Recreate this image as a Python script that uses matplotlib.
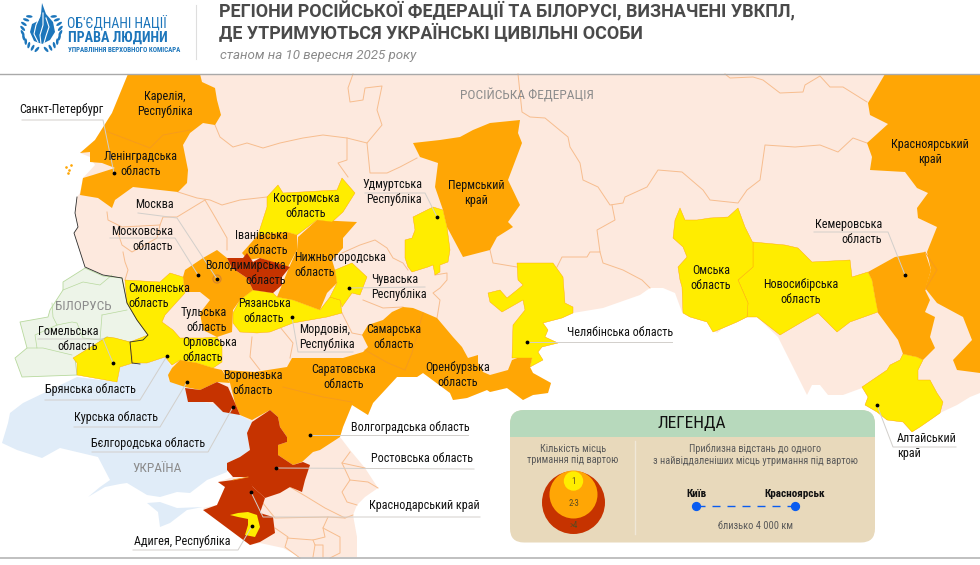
import numpy as np
import matplotlib
matplotlib.use("Agg")
import matplotlib.pyplot as plt
from matplotlib.patches import Polygon, FancyBboxPatch, Rectangle, Circle, Ellipse
from matplotlib import font_manager

names = {f.name for f in font_manager.fontManager.ttflist}
narrow = "Roboto"
for candidate in ["Liberation Sans Narrow", "Roboto Condensed"]:
    if candidate in names:
        narrow = candidate
plt.rcParams["font.family"] = [narrow, "DejaVu Sans"]

PEACH = "#fde9de"
ORANGE = "#ffa605"
YELLOW = "#ffed00"
RED = "#c63300"
EDGE = "#f7bd8e"
INNER = "#f59a1f"
GREY = "#d2cfcb"
GREEN_EDGE = "#b8d99e"

russia = [(128,74),(980,74),(980,393),(970,397),(957,405),(942,412),(933,418),(912,432),(903,422),(887,420),
          (877,412),(865,405),(868,397),(862,388),(843,395),(828,395),(820,385),(812,385),(807,395),(778,337),
          (757,317),(747,317),(737,322),(723,328),(717,333),(713,330),(707,322),(690,317),(682,312),(675,293),
          (663,288),(650,288),(640,295),(603,308),(573,313),(562,318),(543,323),(548,330),(545,337),(558,343),
          (542,347),(538,352),(543,360),(530,367),(533,373),(551,383),(548,393),(533,395),(523,400),(507,388),
          (490,392),(487,390),(467,398),(453,400),(450,393),(423,373),(417,377),(397,377),(373,403),(368,415),
          (352,405),(343,427),(340,437),(350,450),(365,468),(378,488),(365,497),(357,505),(353,515),(357,537),
          (357,557),(300,557),(283,548),(260,543),(250,545),(203,508),(217,505),(225,487),(218,482),(233,477),
          (227,470),(227,463),(240,457),(250,450),(247,433),(252,422),(240,415),(217,405),(187,398),(185,387),
          (168,380),(172,368),(165,357),(147,363),(132,363),(130,342),(143,340),(148,335),(137,320),(127,303),
          (122,278),(103,275),(85,267),(74,233),(78,227),(75,213),(77,197),(80,193),(83,178),(95,165),(90,157),
          (80,153),(95,140),(112,113)]
belarus = [(63,282),(82,270),(85,268),(103,276),(122,278),(127,303),(137,320),(148,335),(143,340),(130,342),
           (107,337),(75,358),(77,375),(22,377),(15,358),(27,348),(20,322),(48,317),(50,310),(63,290)]
ukraine = [(77,377),(117,382),(120,367),(132,363),(147,363),(165,357),(172,368),(168,380),(185,387),(187,398),
           (217,405),(240,415),(252,422),(247,433),(250,450),(240,457),(227,463),(227,472),(207,480),(190,493),
           (177,492),(160,497),(147,495),(127,483),(120,484),(105,487),(88,497),(100,487),(110,480),(98,457),
           (60,448),(42,458),(17,450),(2,443),(8,423),(10,413),(23,403)]
crimea = [(147,503),(160,502),(177,508),(203,507),(187,510),(170,523),(160,527),(158,512)]

karelia_leningrad = [(128,74),(200,74),(202,82),(215,88),(217,100),(221,115),(215,125),(203,123),(190,133),(183,145),
                     (188,170),(187,183),(178,192),(133,187),(115,200),(112,208),(98,198),(80,195),(83,178),
                     (93,175),(115,168),(102,163),(90,162),(90,152),(80,153),(95,140),(112,113)]
krasnoyarsk = [(885,74),(868,103),(870,115),(888,124),(867,143),(872,157),(870,170),(905,172),(917,188),(928,193),
               (917,208),(918,218),(937,227),(927,252),(931,270),(925,288),(937,303),(963,317),(972,340),(953,360),
               (957,370),(980,373),(980,74)]
kemerovo = [(868,272),(895,257),(925,252),(931,270),(925,290),(930,300),(925,312),(935,317),(930,337),(935,348),
            (923,360),(917,357),(903,354),(898,340),(878,313),(875,297),(872,280)]
perm = [(413,143),(440,140),(460,137),(473,130),(490,123),(520,120),(518,133),(522,143),(508,180),(520,205),
        (508,222),(513,227),(497,237),(490,250),(463,257),(447,227),(443,210),(435,187),(438,163),(420,157)]
nizhny = [(317,220),(357,222),(343,238),(343,248),(332,260),(335,270),(337,283),(327,293),(320,310),(293,300),
          (277,297),(288,270),(297,250),(298,237)]
ivanovo = [(242,253),(258,235),(287,232),(297,235),(297,250),(288,267),(260,258),(248,260)]
moscow = [(183,277),(185,270),(203,258),(217,250),(227,258),(232,268),(247,278),(253,290),(240,300),(233,310),(232,332),
          (217,337),(203,330),(200,313),(210,300),(200,292),(185,292)]
big_south = [(223,370),(255,372),(287,367),(292,358),(343,358),(363,352),(368,347),(362,335),(368,325),(383,320),
             (392,312),(403,307),(413,308),(423,312),(437,318),(453,337),(462,347),(468,358),(478,355),(478,363),
             (483,372),(490,375),(508,370),(512,360),(520,357),(532,358),(530,367),
             (533,373),(551,383),(548,393),(533,395),(523,400),(507,388),(490,392),(487,390),(467,398),(453,400),
             (450,393),(423,373),(417,377),(397,377),(373,403),(368,415),(352,405),(343,427),(340,437),(320,450),
             (313,452),(302,462),(293,465),(278,455),(278,445),(287,442),(287,437),(280,427),(278,417),(270,410),(252,420),(240,415),
             (235,403),(230,383)]
kursk = [(172,368),(180,360),(197,363),(213,368),(222,370),(230,383),(217,382),(200,390),(185,387),(170,382),(168,375)]

kostroma = [(278,185),(283,193),(337,190),(342,178),(355,193),(343,212),(332,222),(317,220),(297,235),(287,232),
            (258,235),(267,207),(267,197)]
novosibirsk = [(753,242),(785,245),(798,248),(812,262),(850,260),(852,277),(868,272),(872,280),(875,297),(878,312),
               (850,322),(837,332),(818,313),(802,322),(780,335),(757,317),(747,317),(748,303),(738,280),(753,267)]
omsk = [(680,208),(675,220),(673,238),(683,247),(687,257),(678,267),(680,280),(682,287),(683,313),(690,317),
        (707,322),(713,332),(723,328),(737,322),(747,317),(748,303),(738,280),(753,267),(753,243),(745,227),
        (738,208),(728,217),(710,218),(697,220),(685,220)]
chelyabinsk = [(517,263),(553,263),(563,277),(565,303),(573,307),(573,313),(562,318),(543,323),(548,330),(545,337),
               (558,343),(542,347),(538,352),(543,360),(530,367),(532,358),(512,358),(513,325),(525,310),(523,300),
               (502,312),(490,302),(488,293),(500,290),(507,298),(517,290),(523,285),(518,280)]
udmurtia = [(413,217),(433,207),(443,210),(447,227),(450,250),(448,262),(440,265),(440,272),(435,275),(433,265),
            (428,267),(412,272),(408,267),(405,258),(405,240),(412,238),(415,230)]
altai = [(862,387),(887,370),(890,365),(900,360),(903,354),(917,357),(923,360),(918,370),(918,380),(930,380),
         (937,393),(943,402),(940,413),(933,418),(920,427),(912,432),(903,422),(887,420),(877,412),(865,405),(868,397)]
ryazan_mordovia = [(240,300),(253,290),(273,293),(277,297),(293,300),(320,310),(330,297),(340,300),(342,313),(327,317),
                   (293,323),(270,332),(257,333),(240,332),(233,323),(233,313)]
chuvashia = [(335,270),(352,263),(367,277),(360,295),(352,293),(342,307),(340,300),(330,297),(337,283)]
smolensk_orel = [(125,280),(127,303),(137,320),(148,335),(130,342),(132,363),(147,363),(165,357),(172,365),(180,360),
                 (197,363),(213,368),(222,362),(222,345),(217,337),(203,338),(180,338),(173,330),(162,322),(165,315),
                 (185,293),(183,277),(170,273),(160,282)]
gomel = [(73,358),(107,337),(115,338),(130,342),(133,363),(120,367),(117,382),(77,375),(77,363)]

vladimir = [(227,258),(243,258),(247,253),(253,262),(260,258),(277,263),(290,267),(282,277),(282,285),(273,293),
            (253,290),(247,278),(232,268)]
belgorod = [(185,388),(200,390),(217,382),(228,387),(235,403),(240,415),(223,412),(213,402),(188,402)]
rostov = [(270,410),(278,417),(280,427),(287,437),(287,442),(278,445),(278,455),(293,465),(303,462),(310,465),(305,480),
          (302,492),(290,487),(280,493),(265,498),(253,487),(245,477),(233,477),(227,470),(227,463),(240,457),
          (250,450),(247,433),(252,422)]
krasnodar = [(218,482),(233,480),(248,477),(253,487),(265,498),(260,513),(273,517),(275,533),(260,542),(250,545),
             (203,510),(217,505),(225,487)]
adygea = [(230,515),(238,513),(248,512),(257,515),(260,527),(255,537),(245,535),(248,525),(248,519),(238,517)]

orange_regions = [karelia_leningrad, krasnoyarsk, kemerovo, perm, nizhny, ivanovo, moscow, big_south, kursk]
yellow_regions = [kostroma, novosibirsk, omsk, chelyabinsk, udmurtia, altai, ryazan_mordovia, chuvashia, smolensk_orel, gomel]
red_regions = [vladimir, belgorod, rostov, krasnodar]

# thin borders between the regions
peach_borders = [
    [(353,74),(348,88),(350,102),(363,100),(365,88),(382,86),(377,110),(382,125),(367,143),(347,138),(323,135),
     (303,138),(280,143),(263,148),(247,143),(233,147),(220,137),(215,125)],
    [(347,138),(347,160),(338,163),(348,177)],
    [(367,143),(370,173),(387,173),(400,167),(417,158)],
    [(518,74),(522,112),(530,117),(545,118),(568,137),(570,147),(580,163),(583,180),(598,187),(610,205),(623,203),
     (625,197),(647,187),(658,170),(682,172),(703,190),(710,200),(738,203),(747,190),(760,180),(765,145),(795,147),
     (820,145),(838,152),(853,138),(867,143)],
    [(725,74),(730,78),(753,77),(763,80),(780,93),(803,92),(805,85),(820,76),(830,87),(843,87),(867,102)],
    [(612,205),(615,220),(597,230),(600,252),(590,252),(587,257),(562,257),(557,267)],
    [(600,252),(603,263),(623,270),(642,280),(650,288)],
    [(490,250),(493,263),(517,267)],
    [(178,192),(197,198),(210,200),(222,205),(240,200),(267,197)],
    [(205,200),(215,217),(227,238),(227,250)],
    [(107,212),(108,220),(122,227),(160,225),(163,217),(177,217),(200,203),(205,200)],
    [(118,233),(122,245),(132,252),(157,238),(160,225)],
    [(123,252),(125,262),(128,270),(125,280)],
    [(280,327),(293,343),(290,358)],
    [(252,337),(250,357),(260,370)],
    [(342,253),(360,245),(375,240),(387,248),(393,258),(403,263),(408,270)],
    [(363,300),(383,308),(403,307)],
    [(342,313),(352,333),(362,335)],
    [(435,275),(447,273),(447,280),(440,288),(433,293),(440,300),(437,318)],
    [(350,452),(342,463),(350,480),(342,492),(347,502),(357,505)],
    [(342,463),(365,468)],
    [(350,480),(368,482),(378,488)],
    [(290,487),(307,497),(325,508),(345,518),(353,515)],
    [(262,502),(275,518),(328,517),(345,518)],
    [(328,517),(323,528),(340,537),(340,553),(330,558)],
    [(323,528),(325,537),(313,540),(287,538)],
    [(275,528),(288,537),(285,547),(300,558)],
    [(313,540),(315,545),(323,545),(323,557)],
    [(315,545),(313,557)],
]
inner_borders = [
    [(103,130),(150,148),(163,135),(190,130)],
    [(283,387),(323,397),(352,402)],
    [(365,350),(388,363),(405,370)],
    [(423,313),(412,353),(405,370)],
    [(233,480),(248,477)],
    [(925,252),(937,270),(925,290)],
]
belarus_borders = [
    [(52,303),(53,317),(57,325),(72,322),(77,323),(83,338),(100,340),(107,337)],
    [(102,315),(127,310)],
    [(102,315),(100,340)],
    [(27,348),(37,348),(35,335),(57,325)],
    [(72,355),(43,348),(37,348)],
    [(63,290),(83,282),(100,285),(112,275)],
]
frontier = [(77,197),(75,213),(78,227),(74,233),(85,267),(103,275),(122,278),(127,303),(137,320),(148,335),(143,340),
            (130,342),(132,363),(140,364)]

region_names = ["Карелія,\nРеспубліка", "Ленінградська\nобласть", "Москва", "Костромська\nобласть", "Пермський\nкрай",
                "Самарська\nобласть", "Саратовська\nобласть", "Оренбурзька\nобласть", "Воронезька\nобласть",
                "Рязанська\nобласть", "Омська\nобласть", "Новосибірська\nобласть", "Красноярський\nкрай"]
region_centres = [(165,104), (141,164), (154,205), (306,206), (476,193), (394,337), (344,377), (458,375), (253,383),
                  (264,311), (711,278), (801,292), (930,152)]
left_names = ["Нижньогородська\nобласть", "Смоленська\nобласть", "Орловська\nобласть", "Мордовія,\nРеспубліка",
              "Алтайський\nкрай", "Чуваська\nРеспубліка"]
left_anchors = [(294,265), (128,296), (182,350), (299,337), (897,446), (371,287)]
right_names = ["Московська\nобласть", "Гомельська\nобласть", "Кемеровська\nобласть", "Санкт-Петербург",
               "Удмуртська\nРеспубліка", "Тульська\nобласть", "Іванівська\nобласть", "Володимирська\nобласть"]
right_anchors = [(173,239), (98,339), (882,232), (103,110), (422,192), (227,320), (288,243), (286,273)]
callout_names = ["Брянська область", "Курська область", "Бєлгородська область", "Адигея, Республіка",
                 "Волгоградська область", "Ростовська область", "Краснодарський край", "Челябінська область"]
callout_centres = [(90,390), (116,418), (148,443), (182,541), (410,427), (422,459), (424,506), (620,333)]
country_names = ["РОСІЙСЬКА ФЕДЕРАЦІЯ", "БІЛОРУСЬ", "УКРАЇНА"]
country_centres = [(527,96), (83,307), (157,469)]

leaders = [
    [(22,120),(103,120),(114,173)], [(138,213),(177,218),(217,279)], [(110,238),(175,238),(198,275)],
    [(365,193),(425,193),(437,217)], [(349,288),(425,287)], [(292,317),(298,352),(353,352)],
    [(38,339),(103,339),(113,363)], [(45,400),(140,400),(167,356)], [(74,427),(160,427),(187,382)],
    [(92,452),(208,452),(233,407)], [(133,550),(238,550),(252,526)], [(310,435),(468,435)],
    [(276,468),(474,469)], [(251,492),(263,517),(480,517)], [(527,342),(672,342)],
    [(814,232),(888,232),(905,275)], [(877,405),(893,447),(956,447)],
]
dots = [(114,173), (217,279), (198,275), (437,217), (349,288), (292,317), (113,363), (167,356), (187,382), (233,407),
        (252,526), (310,435), (276,468), (251,492), (527,342), (905,275), (877,405)]

legend_counts = ["1", "2-3", ">4"]

fig = plt.figure(figsize=(9.8, 5.65), dpi=100)
ax = fig.add_axes([0, 0, 1, 1])
ax.set_xlim(0, 980)
ax.set_ylim(565, 0)
ax.axis("off")


def poly(points, face, edge="none", lw=0.0, z=1):
    ax.add_patch(Polygon(points, closed=True, facecolor=face, edgecolor=edge, linewidth=lw, zorder=z, joinstyle="round"))


def line(points, color, lw=0.7, z=3):
    xs, ys = zip(*points)
    ax.plot(xs, ys, color=color, lw=lw, zorder=z, solid_joinstyle="round")


poly(russia, PEACH)
poly(belarus, "#edf4e8", edge=GREEN_EDGE, lw=0.6, z=1.2)
poly(ukraine, "#e0ecf8", z=1.2)
poly(crimea, "#e0ecf8", z=1.2)
for b in peach_borders:
    line(b, EDGE, z=1.5)
for b in belarus_borders:
    line(b, GREEN_EDGE, lw=0.5, z=1.3)

for r in orange_regions:
    poly(r, ORANGE, z=2)
for r in yellow_regions:
    poly(r, YELLOW, edge=ORANGE, lw=0.3, z=2.2)
for r in red_regions:
    poly(r, RED, z=2.3)
poly(adygea, YELLOW, z=2.4)
for b in inner_borders:
    line(b, INNER, lw=0.6, z=2.35)
line(frontier, "#2b2b2b", lw=0.6, z=2.5)
ax.add_patch(Circle((217, 279), 4, facecolor="none", edgecolor="#d8862b", lw=0.9, zorder=2.5))

# islets in the gulf
ax.scatter([66, 69, 71, 68], [167, 170, 165, 173], s=0.8, color=ORANGE, zorder=2)

for pts in leaders:
    line(pts, GREY, lw=0.7, z=3)
ax.scatter(*zip(*dots), s=3, color="black", zorder=4)

LABEL = 8.7
SPACING = 1.2
for s, (x, y) in zip(region_names + callout_names, region_centres + callout_centres):
    ax.text(x, y, s, ha="center", va="center", fontsize=LABEL, color="#111111", zorder=5, linespacing=SPACING)
for s, (x, y) in zip(left_names, left_anchors):
    ax.text(x, y, s, ha="left", va="center", fontsize=LABEL, color="#111111", zorder=5, linespacing=SPACING)
for s, (x, y) in zip(right_names, right_anchors):
    ax.text(x, y, s, ha="right", va="center", fontsize=LABEL, color="#111111", zorder=5, linespacing=SPACING)
for s, (x, y) in zip(country_names, country_centres):
    ax.text(x, y, s, ha="center", va="center", fontsize=9.6, color="#8c8c8c", zorder=5)

# header
ax.add_patch(Rectangle((0, 0), 980, 73, facecolor="white", zorder=6))
line([(0, 73.5), (980, 73.5)], "#a9a9a9", lw=1.0, z=7)
line([(0, 558), (980, 558)], "#b5b5b5", lw=1.2, z=7)
line([(196, 5), (196, 59)], "#dedede", lw=0.8, z=7)
ax.text(219, 11.5, "РЕГІОНИ РОСІЙСЬКОЇ ФЕДЕРАЦІЇ ТА БІЛОРУСІ, ВИЗНАЧЕНІ УВКПЛ,", family="Roboto", fontweight="bold",
        fontsize=12.95, color="#4a4a4a", va="center", zorder=8)
ax.text(219, 34, "ДЕ УТРИМУЮТЬСЯ УКРАЇНСЬКІ ЦИВІЛЬНІ ОСОБИ", family="Roboto", fontweight="bold",
        fontsize=12.9, color="#4a4a4a", va="center", zorder=8)
ax.text(220, 55, "станом на 10 вересня 2025 року", family="Roboto", style="italic", fontsize=9.6, color="#8a8a8a",
        va="center", zorder=8)

# logo
BLUE = "#1d76bb"
for side in (-1, 1):
    for a in np.linspace(14, 140, 10):
        t = np.radians(a)
        ax.add_patch(Ellipse((41.5 + side * 19 * np.sin(t), 31 + 19 * np.cos(t)), 6.5, 2.6,
                             angle=side * (a + 35), facecolor=BLUE, zorder=8))
poly([(42,3),(46,14),(53,22),(55,32),(50,40),(42,44),(34,41),(30,32),(32,24),(38,21),(41,14)], BLUE, z=9)
for s in [[(40,16),(36,25),(34,34),(38,42)], [(43,13),(43,25),(40,35),(41,44)], [(46,18),(49,27),(46,36),(44,43)]]:
    line(s, "white", lw=0.8, z=10)
ax.text(67, 24, "ОБ'ЄДНАНІ НАЦІЇ", fontsize=10, color=BLUE, va="center", zorder=8)
ax.text(68, 38, "ПРАВА ЛЮДИНИ", fontweight="bold", fontsize=10.2, color=BLUE, va="center", zorder=8)
ax.text(68, 50, "УПРАВЛІННЯ ВЕРХОВНОГО КОМІСАРА", fontweight="bold", fontsize=5.0, color=BLUE, va="center", zorder=8)

# legend panel
panel = FancyBboxPatch((510, 410), 365, 132.5, boxstyle="round,pad=0,rounding_size=14", facecolor="#e8d9bb",
                       edgecolor="none", zorder=6)
ax.add_patch(panel)
head = Rectangle((510, 410), 365, 27, facecolor="#b7d9bc", zorder=6.1)
ax.add_patch(head)
head.set_clip_path(panel)
ax.text(692, 423.5, "ЛЕГЕНДА", fontsize=12.5, color="#111111", ha="center", va="center", zorder=8)
line([(635, 441), (635, 534)], "#f0e8d8", lw=1.0, z=7)
ax.text(573, 454.5, "Кількість місць\nтримання під вартою", fontsize=7.4, color="#5a5a5a", ha="center", va="center", zorder=8, linespacing=1.2)
ax.text(755, 454.5, "Приблизна відстань до одного\nз найвіддаленіших місць утримання під вартою", fontsize=7.4, color="#5a5a5a",
        ha="center", va="center", zorder=8, linespacing=1.2)
ax.add_patch(Circle((573.5, 502.5), 31.5, facecolor=RED, zorder=7))
ax.add_patch(Circle((573.5, 494.5), 24, facecolor=ORANGE, zorder=7.1))
ax.add_patch(Circle((573.5, 481), 9.7, facecolor=YELLOW, zorder=7.2))
for s, y in zip(legend_counts, [481, 503, 526]):
    ax.text(573.5, y, s, fontsize=6.3, color="#5a4a20", ha="center", va="center", zorder=8)
ax.plot([697, 795], [506, 506], color="#0a5cf0", lw=1.0, dashes=(5.76, 5.04), zorder=7)
ax.scatter([696, 795], [506, 506], s=32, color="#0a5cf0", zorder=8)
ax.text(696, 494, "Київ", fontweight="bold", fontsize=8, color="#111111", ha="center", va="center", zorder=8)
ax.text(795, 494, "Красноярськ", fontweight="bold", fontsize=8, color="#111111", ha="center", va="center", zorder=8)
ax.text(755, 526, "близько 4 000 км", fontsize=7.5, color="#5a5a5a", ha="center", va="center", zorder=8)

fig.savefig("out.png", dpi=100)
